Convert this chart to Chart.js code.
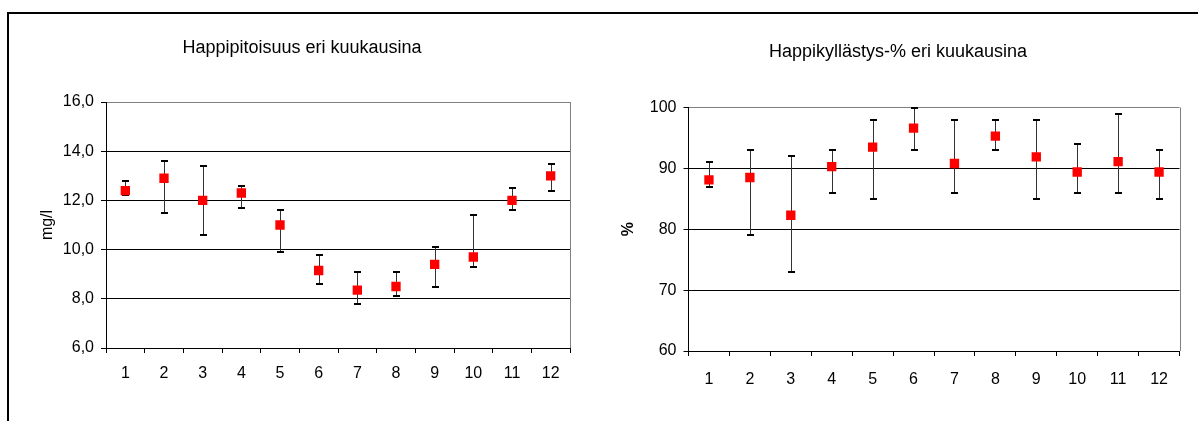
<!DOCTYPE html>
<html>
<head>
<meta charset="utf-8">
<script src="https://cdn.jsdelivr.net/npm/chart.js@4"></script>
<style>
  html, body { margin: 0; padding: 0; background: #fff; }
  body { width: 1198px; height: 421px; position: relative; overflow: hidden; }
  #frame { position: absolute; left: 7px; top: 12px; width: 1200px; height: 420px;
           border-top: 2px solid #000; border-left: 2px solid #000; }
  #c1 { position: absolute; left: 0; top: 0; }
  #c2 { position: absolute; left: 600px; top: 0; }
</style>
</head>
<body>
<div id="frame"></div>
<canvas id="c1" width="600" height="421" style="width:600px;height:421px"></canvas>
<canvas id="c2" width="598" height="421" style="width:598px;height:421px"></canvas>
<script>
const months = ['1', '2', '3', '4', '5', '6', '7', '8', '9', '10', '11', '12'];

// Happipitoisuus (mg/l): mean, min, max
const o2Mean = [12.4, 12.9, 12.0, 12.3, 11.0, 9.15, 8.35, 8.5, 9.4, 9.7, 12.0, 13.0];
const o2Low  = [12.2, 11.5, 10.6, 11.7, 9.9, 8.6, 7.8, 8.1, 8.5, 9.3, 11.6, 12.4];
const o2High = [12.8, 13.6, 13.4, 12.6, 11.6, 9.8, 9.1, 9.1, 10.1, 11.4, 12.5, 13.5];

// Happikyllästys (%): mean, min, max
const satMean = [88.1, 88.5, 82.3, 90.3, 93.5, 96.6, 90.8, 95.3, 91.9, 89.4, 91.1, 89.4];
const satLow  = [87, 79, 73, 86, 85, 93, 86, 93, 85, 86, 86, 85];
const satHigh = [91, 93, 92, 93, 98, 100, 98, 98, 98, 94, 99, 93];

Chart.defaults.font.family = '"Liberation Sans", Arial, sans-serif';
Chart.defaults.color = '#000';

// whiskers behind the markers, positioned through the y scale
function makeErrorBars(low, high) {
  return {
    id: 'errorBars',
    beforeDatasetsDraw(chart) {
      const { ctx, scales: { y } } = chart;
      const meta = chart.getDatasetMeta(0);
      ctx.save();
      meta.data.forEach((pt, i) => {
        const x = Math.round(pt.x) + 0.5;
        const yHi = Math.round(y.getPixelForValue(high[i]));
        const yLo = Math.round(y.getPixelForValue(low[i]));
        ctx.strokeStyle = '#333';
        ctx.lineWidth = 1;
        ctx.beginPath(); ctx.moveTo(x, yHi); ctx.lineTo(x, yLo); ctx.stroke();
        ctx.strokeStyle = '#000';
        ctx.lineWidth = 2;
        [yHi, yLo].forEach(yy => {
          ctx.beginPath(); ctx.moveTo(x - 3.5, yy); ctx.lineTo(x + 3.5, yy); ctx.stroke();
        });
      });
      ctx.restore();
    }
  };
}

// grey right edge of the plot area
const plotEdge = {
  id: 'plotEdge',
  beforeDatasetsDraw(chart) {
    const { ctx, chartArea: a } = chart;
    ctx.save();
    ctx.strokeStyle = '#808080';
    ctx.lineWidth = 1;
    ctx.beginPath();
    ctx.moveTo(Math.round(a.right) + 0.5, a.top);
    ctx.lineTo(Math.round(a.right) + 0.5, a.bottom);
    ctx.stroke();
    ctx.restore();
  }
};

function buildChart(id, cfg) {
  return new Chart(document.getElementById(id), {
    type: 'line',
    data: {
      labels: months,
      datasets: [{
        data: cfg.mean,
        showLine: false,
        pointStyle: 'rect',
        pointRadius: 6.6,
        pointBorderWidth: 0,
        pointBackgroundColor: '#ff0000',
        pointBorderColor: '#ff0000'
      }]
    },
    options: {
      responsive: false,
      animation: false,
      layout: { padding: { left: cfg.padLeft, right: cfg.padRight, top: 0, bottom: 0 } },
      plugins: {
        legend: { display: false },
        tooltip: { enabled: false },
        title: {
          display: true,
          text: cfg.title,
          font: { size: 18, weight: 'normal' },
          color: '#000',
          padding: { top: cfg.titleTop, bottom: cfg.titleBottom }
        }
      },
      scales: {
        x: {
          type: 'category',
          offset: true,
          grid: { offset: true, drawOnChartArea: false, color: '#000', tickLength: 5 },
          border: { color: '#000' },
          ticks: { padding: cfg.xPad, font: { size: 16 }, autoSkip: false, maxRotation: 0 },
          afterFit: s => { s.height = cfg.xHeight; }
        },
        y: {
          min: cfg.min,
          max: cfg.max,
          ticks: { stepSize: cfg.step, padding: 7, font: { size: 16 }, callback: cfg.fmt },
          grid: {
            color: c => (c.tick && c.tick.value === cfg.max) ? '#808080' : '#000',
            tickColor: '#000',
            tickLength: 5
          },
          border: { color: '#000' },
          title: {
            display: true,
            text: cfg.yTitle,
            font: { size: 16, weight: cfg.yTitleWeight },
            padding: { top: cfg.yTitlePad, bottom: 0 }
          },
          afterFit: s => { s.width = 72; }
        }
      }
    },
    plugins: [makeErrorBars(cfg.low, cfg.high), plotEdge]
  });
}

buildChart('c1', {
  title: 'Happipitoisuus eri kuukausina',
  mean: o2Mean, low: o2Low, high: o2High,
  min: 6, max: 16, step: 2,
  fmt: v => v.toFixed(1).replace('.', ','),
  yTitle: 'mg/l', yTitleWeight: 'normal', yTitlePad: 4.4,
  padLeft: 34, padRight: 30,
  titleTop: 37.2, titleBottom: 43.2,
  xPad: 11.4, xHeight: 73
});

buildChart('c2', {
  title: 'Happikyllästys-% eri kuukausina',
  mean: satMean, low: satLow, high: satHigh,
  min: 60, max: 100, step: 10,
  fmt: v => v,
  yTitle: '%', yTitleWeight: 'bold', yTitlePad: 2,
  padLeft: 16.5, padRight: 18.5,
  titleTop: 41.2, titleBottom: 44.7,
  xPad: 14.4, xHeight: 70
});
</script>
</body>
</html>
